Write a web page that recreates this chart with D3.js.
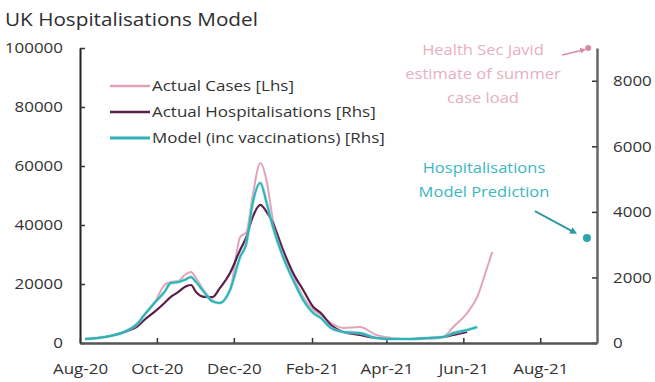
<!DOCTYPE html>
<html><head><meta charset="utf-8">
<script src="https://cdn.jsdelivr.net/npm/d3@7/dist/d3.min.js"></script>
<style>
body{margin:0;background:#fff;}
svg{display:block;font-family:"Open Sans",sans-serif;}
</style></head>
<body><svg id="c" width="655" height="382"></svg>
<script>
// ---- data ----
const dates = ["2020-08-05","2020-08-15","2020-08-25","2020-09-05","2020-09-16","2020-09-21","2020-09-29","2020-10-07","2020-10-12","2020-10-18","2020-10-23","2020-10-28","2020-11-01","2020-11-08","2020-11-14","2020-11-20","2020-11-28","2020-12-06","2020-12-11","2020-12-16","2020-12-22","2020-12-27","2021-01-01","2021-01-09","2021-01-17","2021-01-25","2021-02-02","2021-02-08","2021-02-16","2021-02-26","2021-03-11","2021-03-24","2021-04-06","2021-04-19","2021-05-03","2021-05-16","2021-05-24","2021-06-04","2021-06-12","2021-06-20","2021-06-24"];
const cases = [1356,1695,2370,3730,6780,9490,13560,19660,20680,21000,23050,24070,22030,17290,14500,13560,17970,35930,37630,50170,61000,55000,41700,30850,22700,15590,11190,9500,6780,5085,5420,2710,1695,1356,1356,2030,5420,10170,15590,25760,30850];
const hospitalisations = [122,153,214,336,519,702,947,1221,1405,1557,1710,1770,1557,1405,1400,1680,2137,2840,3237,3847,4214,4000,3664,2840,2137,1618,1099,916,550,336,244,153,122,122,153,183,244,336,null,null,null];
const model = [122,153,214,336,611,855,1221,1557,1832,1863,1924,2015,1863,1527,1270,1221,1618,2626,3053,4275,4885,4275,3542,2626,1924,1313,916,763,458,336,305,153,122,122,153,183,305,397,489,null,null];
const javidDate = "2021-09-08", javidCases = 100000;
const predDate = "2021-09-07", predHosp = 3200;
const xTickDates = ["2020-08-01","2020-10-01","2020-12-01","2021-02-01","2021-04-01","2021-06-01","2021-08-01"];
const xTickLabels = ["Aug-20","Oct-20","Dec-20","Feb-21","Apr-21","Jun-21","Aug-21"];
const leftTicks = [0,20000,40000,60000,80000,100000];
const rightTicks = [0,2000,4000,6000,8000];
const seriesNames = ["Actual Cases [Lhs]","Actual Hospitalisations [Rhs]","Model (inc vaccinations) [Rhs]"];
const seriesColors = ["#e3a3b6","#5b1d49","#2fb1b6"];

// ---- chart ----
const parse = d3.timeParse("%Y-%m-%d");
const svg = d3.select("#c");
const L = 80, R = 597, T = 48, B = 343;
const x = d3.scaleTime().domain([parse("2020-08-01"), parse("2021-09-15")]).range([L, R]);
const yL = d3.scaleLinear().domain([0,100000]).range([B,T]);
const yR = d3.scaleLinear().domain([0,9000]).range([B,T]);
// horizontal glyph stretch (reference type is wide)
function stretch(sel, k){ sel.each(function(){ const w=this.getComputedTextLength(); d3.select(this).attr("textLength",w*k).attr("lengthAdjust","spacingAndGlyphs"); }); }
const K = 1.13;

svg.append("text").attr("x",5).attr("y",26).attr("font-size",18).attr("fill","#2e2e2e")
  .text("UK Hospitalisations Model").call(stretch,1.15);

// axes
const gL = svg.append("g").attr("transform",`translate(${L},0)`)
  .call(d3.axisLeft(yL).tickValues(leftTicks).tickFormat(d3.format("d")).tickSizeInner(-5).tickSizeOuter(0).tickPadding(17));
gL.select(".domain").attr("stroke","#222").attr("stroke-width",2);
const gR = svg.append("g").attr("transform",`translate(${R},0)`)
  .call(d3.axisRight(yR).tickValues(rightTicks).tickFormat(d3.format("d")).tickSizeInner(-5).tickSizeOuter(0).tickPadding(16));
gR.select(".domain").attr("stroke","#666").attr("stroke-width",2.5);
const gB = svg.append("g").attr("transform",`translate(0,${B})`)
  .call(d3.axisBottom(x).tickValues(xTickDates.map(parse)).tickFormat((d,i)=>xTickLabels[i]).tickSizeInner(-5).tickSizeOuter(0).tickPadding(20));
gB.select(".domain").attr("stroke","#555").attr("stroke-width",2.5);
[gL,gR,gB].forEach(g=>{
  g.selectAll("text").attr("font-family","Open Sans, sans-serif").attr("font-size",15).attr("fill","#333").call(stretch,K);
  g.selectAll(".tick line").attr("stroke","#333").attr("stroke-width",1.5);
});

// lines
const pts = (vals) => dates.map((d,i)=>({d:parse(d),v:vals[i]})).filter(p=>p.v!=null);
const lineL = d3.line().x(p=>x(p.d)).y(p=>yL(p.v)).curve(d3.curveMonotoneX);
const lineR = d3.line().x(p=>x(p.d)).y(p=>yR(p.v)).curve(d3.curveMonotoneX);
svg.append("path").attr("d",lineL(pts(cases))).attr("fill","none").attr("stroke",seriesColors[0]).attr("stroke-width",2);
svg.append("path").attr("d",lineR(pts(hospitalisations))).attr("fill","none").attr("stroke",seriesColors[1]).attr("stroke-width",2.2);
svg.append("path").attr("d",lineR(pts(model))).attr("fill","none").attr("stroke","#8fe0e3").attr("stroke-width",3.5).attr("opacity",0.6);
svg.append("path").attr("d",lineR(pts(model))).attr("fill","none").attr("stroke",seriesColors[2]).attr("stroke-width",2);

// legend
seriesNames.forEach((n,i)=>{
  const yy = 86 + i*26;
  svg.append("line").attr("x1",110).attr("x2",150).attr("y1",yy).attr("y2",yy)
    .attr("stroke",seriesColors[i]).attr("stroke-width",i==2?3:2.5);
  svg.append("text").attr("x",152).attr("y",yy).attr("dy","0.35em").attr("font-size",15).attr("fill","#333").text(n).call(stretch,K);
});

// annotations
const defs = svg.append("defs");
[["aP","#d98aa2"],["aT","#2a9aa3"]].forEach(([id,c])=>{
  defs.append("marker").attr("id",id).attr("viewBox","0 0 10 10").attr("refX",5).attr("refY",5)
    .attr("markerWidth",4).attr("markerHeight",4).attr("orient","auto")
    .append("path").attr("d","M0,0L10,5L0,10z").attr("fill",c);
});
const jx = x(parse(javidDate)), jy = yL(javidCases);
svg.append("line").attr("x1",jx-26).attr("y1",jy+7).attr("x2",jx-5).attr("y2",jy+2)
  .attr("stroke","#d98aa2").attr("stroke-width",1.5).attr("marker-end","url(#aP)");
svg.append("circle").attr("cx",jx).attr("cy",jy).attr("r",3).attr("fill","#d98aa2");
const px = x(parse(predDate)), py = yR(predHosp);
svg.append("line").attr("x1",px-52).attr("y1",py-27).attr("x2",px-13).attr("y2",py-6)
  .attr("stroke","#2a9aa3").attr("stroke-width",1.8).attr("marker-end","url(#aT)");
svg.append("circle").attr("cx",px).attr("cy",py).attr("r",4).attr("fill","#2aa5ae");

const ann1 = ["Health Sec Javid","estimate of summer","case load"];
ann1.forEach((t,i)=>svg.append("text").attr("x",483).attr("y",50+i*24).attr("dy","0.35em")
  .attr("text-anchor","middle").attr("font-size",15).attr("fill","#e7afc0").text(t).call(stretch,1.1));
const ann2 = ["Hospitalisations","Model Prediction"];
ann2.forEach((t,i)=>svg.append("text").attr("x",484).attr("y",168+i*24).attr("dy","0.35em")
  .attr("text-anchor","middle").attr("font-size",15).attr("fill","#3cb6c0").text(t).call(stretch,1.1));
</script></body></html>
